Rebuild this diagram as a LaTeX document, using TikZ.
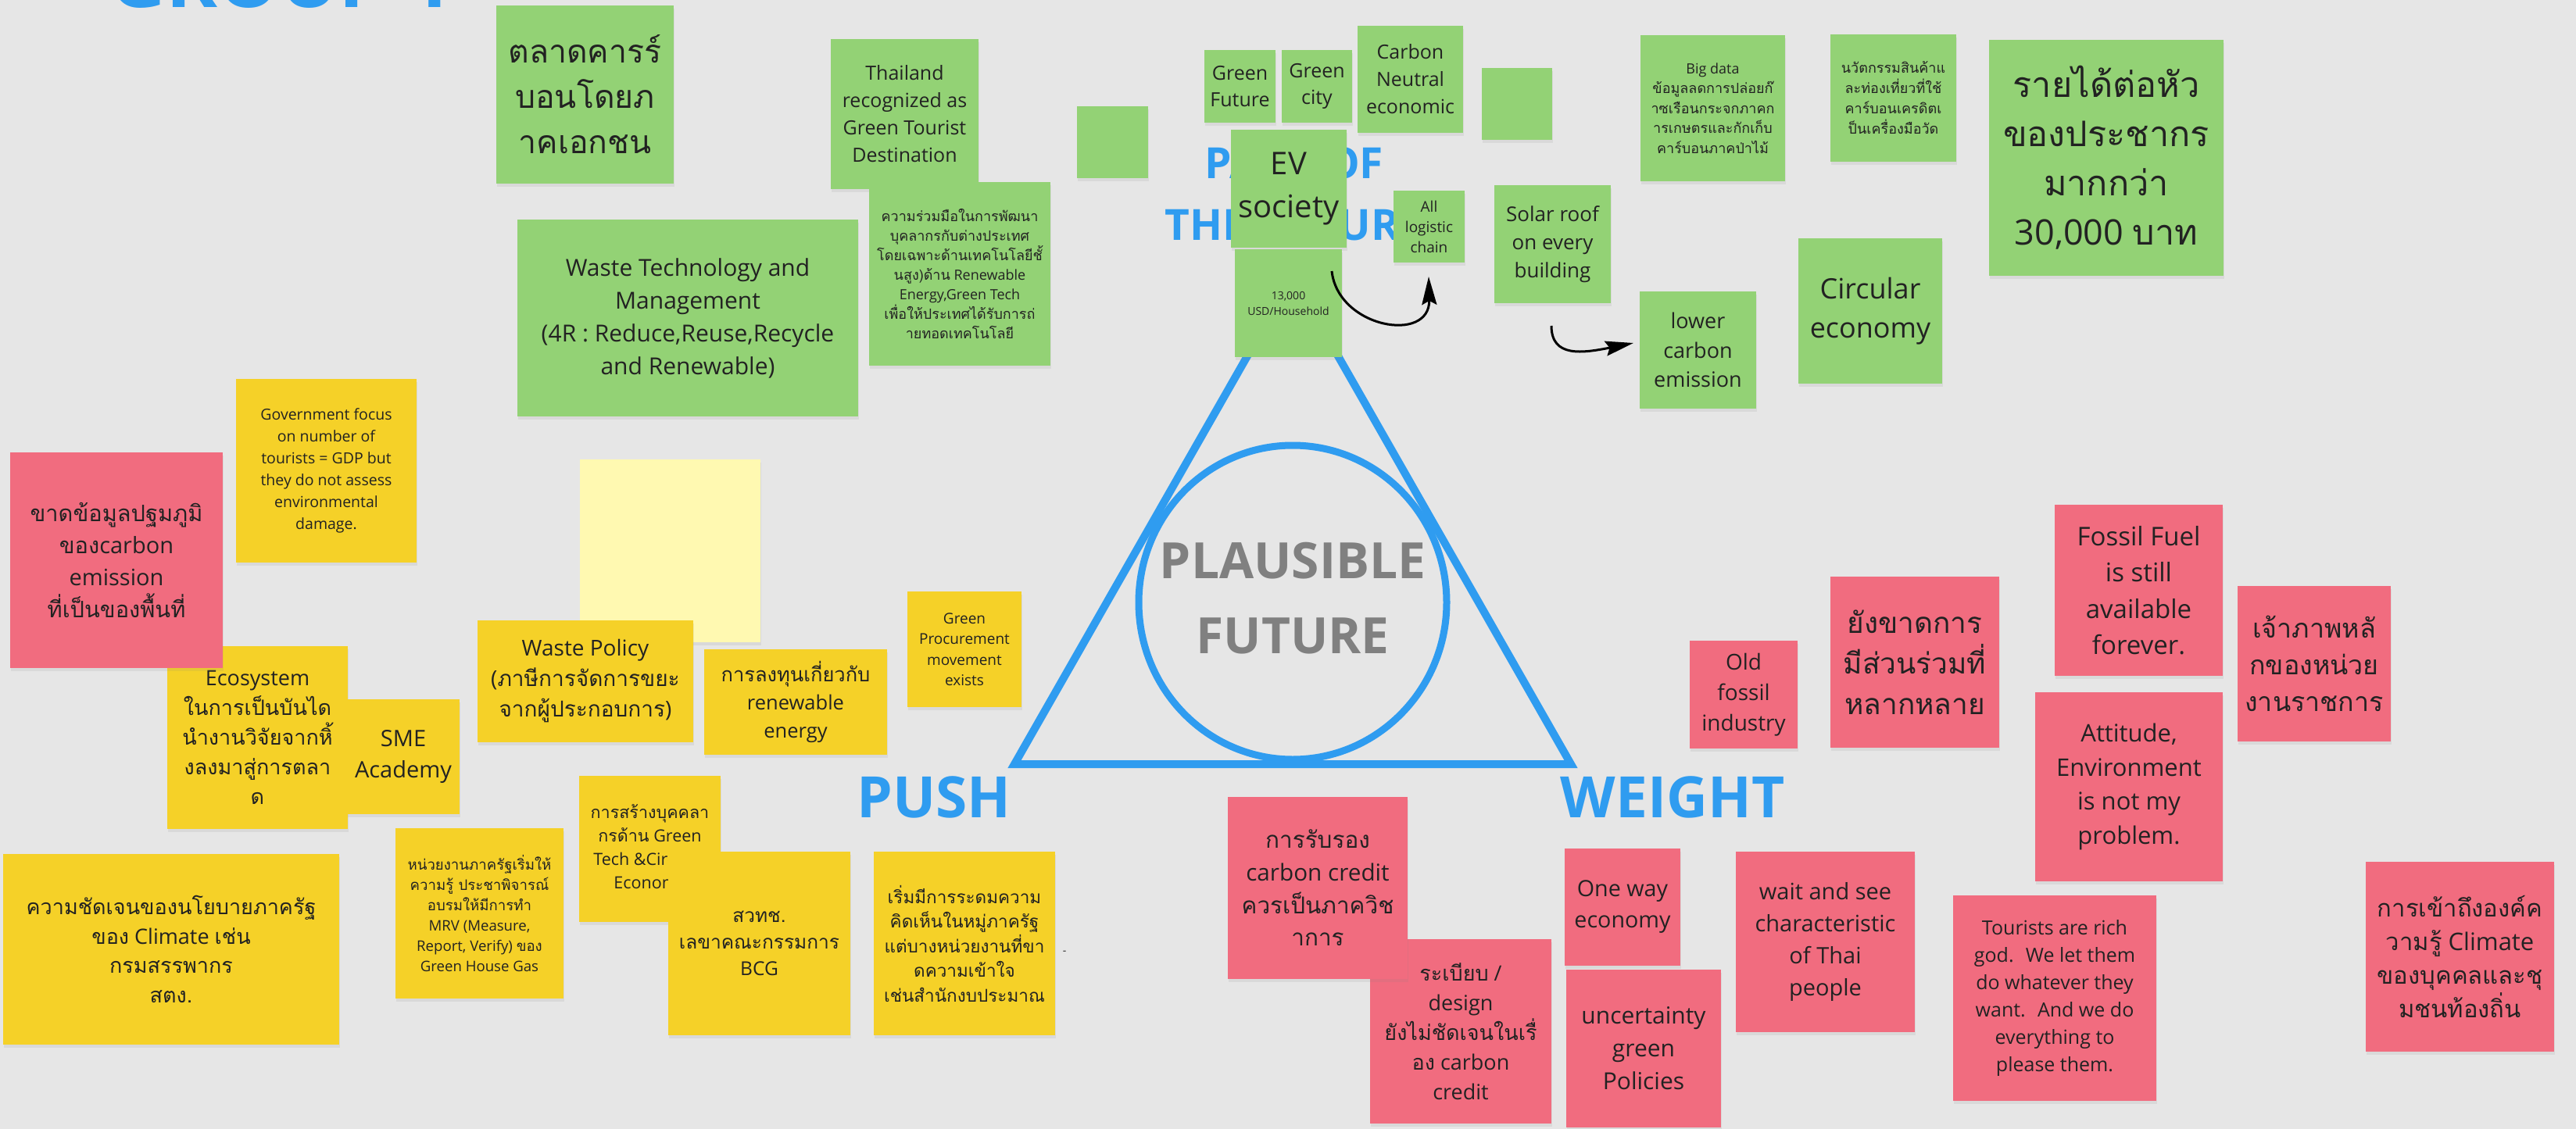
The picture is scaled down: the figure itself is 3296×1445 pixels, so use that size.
\documentclass[tikz,border=0pt]{standalone}
\usepackage{fontspec}
\setmainfont{Open Sans}
\newfontfamily\thaifont[Script=Thai]{Loma}
\usetikzlibrary{arrows.meta,shadows}
\definecolor{bg}{HTML}{E6E6E6}
\definecolor{sgreen}{HTML}{93D275}
\definecolor{syellow}{HTML}{F5D128}
\definecolor{spink}{HTML}{F16C7F}
\definecolor{slight}{HTML}{FFF9B1}
\definecolor{tblue}{HTML}{2F9CF0}
\definecolor{tgray}{HTML}{808080}
\definecolor{ink}{HTML}{222222}
\newcommand\fz[2]{\fontsize{#1}{#2}\selectfont}
\newcommand\tha[1]{{\thaifont #1}}
\newcommand\stick[8]{\node[#2, minimum width={#5-#3}, minimum height={#6-#4}, font=#7] (#1) at ({(#3+#5)/2},{(#4+#6)/2}) {#8};}
\tikzset{
  note/.style={inner sep=0pt, align=center, text=ink, drop shadow={shadow xshift=1pt, shadow yshift=-4pt, opacity=.12}},
  gn/.style={note, fill=sgreen},
  yn/.style={note, fill=syellow},
  ln/.style={note, fill=slight},
  pn/.style={note, fill=spink},
  title/.style={text=tblue, font=\bfseries},
  conn/.style={line width=3pt, draw=black, -{Stealth[length=36pt,width=19pt,inset=5pt]}},
}
\begin{document}
\begin{tikzpicture}[x=1pt,y=-1pt]
\useasboundingbox (0,0) rectangle (3296,1445);
\clip (0,0) rectangle (3296,1445);
\fill[bg] (0,0) rectangle (3296,1445);

% titles
\node[text=tblue, font=\fz{100}{100}\bfseries, anchor=base west, inner sep=0pt] (grp) at (140,10) {GROUP 1};
\node[text=tblue, font=\fz{55}{79}\bfseries, align=center] (path) at (1656,248) {PATH OF\\THE FUTURE};

% triangle and circle
\draw[tblue, line width=10pt] (1654,354) -- (2010,978) -- (1298,978) -- cycle;
\draw[tblue, line width=9pt] (1654,771) ellipse [x radius=197, y radius=201];
\node[text=tgray, font=\fz{64}{96}\bfseries, align=center] (pf) at (1654,766) {PLAUSIBLE\\FUTURE};
\node[text=tblue, font=\fz{73}{73}\bfseries, anchor=base] (push) at (1195,1046) {PUSH};
\node[text=tblue, font=\fz{73}{73}\bfseries, anchor=base] (weight) at (2140,1046) {WEIGHT};

% green notes
\stick{g1}{gn}{635}{7}{862}{235}{\fz{41}{58}\thaifont}{ตลาดคารร์\\บอนโดยภ\\าคเอกชน}
\stick{g2}{gn}{1063}{50}{1252}{242}{\fz{25}{35}}{Thailand\\recognized as\\Green Tourist\\Destination}
\stick{g3}{gn}{1112}{233}{1344}{468}{\fz{18}{25}}{\tha{ความร่วมมือในการพัฒนา}\\ \tha{บุคลากรกับต่างประเทศ}\\ \tha{โดยเฉพาะด้านเทคโนโลยีชั้}\\ \tha{นสูง)ด้าน} Renewable\\ Energy,Green Tech\\ \tha{เพื่อให้ประเทศได้รับการถ่}\\ \tha{ายทอดเทคโนโลยี}}
\stick{g4}{gn}{1378}{136}{1469}{228}{\fz{20}{28}}{}
\stick{g5}{gn}{662}{281}{1098}{533}{\fz{30}{42}}{Waste Technology and\\Management\\(4R : Reduce,Reuse,Recycle\\and Renewable)}
\stick{g6}{gn}{1541}{64}{1632}{157}{\fz{25}{34}}{Green\\Future}
\stick{g7}{gn}{1640}{64}{1730}{157}{\fz{25}{34}}{Green\\city}
\stick{g8}{gn}{1737}{33}{1872}{170}{\fz{25}{35}}{Carbon\\Neutral\\economic}
\stick{g9}{gn}{1896}{87}{1986}{179}{\fz{20}{28}}{}
\stick{g10}{gn}{1575}{166}{1723}{317}{\fz{40}{55}}{EV\\society}
\stick{g11}{gn}{1580}{319}{1717}{457}{\fz{14}{20}}{13,000\\USD/Household}
\stick{g12}{gn}{1783}{244}{1874}{336}{\fz{19}{26}}{All\\logistic\\chain}
\stick{g13}{gn}{1912}{237}{2061}{388}{\fz{26}{36}}{Solar roof\\on every\\building}
\stick{g14}{gn}{2098}{373}{2247}{523}{\fz{27}{37.5}}{lower\\carbon\\emission}
\stick{g15}{gn}{2301}{305}{2485}{491}{\fz{36}{50}}{Circular\\economy}
\stick{g16}{gn}{2099}{45}{2284}{232}{\fz{18}{25.5}}{Big data\\ \tha{ข้อมูลลดการปล่อยก๊}\\ \tha{าซเรือนกระจกภาคก}\\ \tha{ารเกษตรและกักเก็บ}\\ \tha{คาร์บอนภาคป่าไม้}}
\stick{g17}{gn}{2342}{44}{2503}{207}{\fz{18}{26}\thaifont}{นวัตกรรมสินค้าแ\\ละท่องเที่ยวที่ใช้\\คาร์บอนเครดิตเ\\ป็นเครื่องมือวัด}
\stick{g18}{gn}{2545}{51}{2845}{353}{\fz{45}{63}}{\tha{รายได้ต่อหัว}\\ \tha{ของประชากร}\\ \tha{มากกว่า}\\ 30,000 \tha{บาท}}

% yellow notes
\stick{y1}{yn}{302}{485}{533}{720}{\fz{19.5}{28}}{Government focus\\on number of\\tourists = GDP but\\they do not assess\\environmental\\damage.}
\stick{y2}{ln}{742}{588}{973}{822}{\fz{20}{28}}{}
\stick{y3}{yn}{214}{827}{445}{1061}{\fz{27}{38}}{Ecosystem\\ \tha{ในการเป็นบันได}\\ \tha{นำงานวิจัยจากหิ้}\\ \tha{งลงมาสู่การตลา}\\ \tha{ด}}
\stick{y4}{yn}{444}{895}{588}{1042}{\fz{29}{40}}{SME\\Academy}
\stick{y5}{yn}{611}{794}{887}{950}{\fz{28}{39}}{Waste Policy\\ (\tha{ภาษีการจัดการขยะ}\\ \tha{จากผู้ประกอบการ})}
\stick{y6}{yn}{901}{831}{1135}{966}{\fz{25.5}{36}}{\tha{การลงทุนเกี่ยวกับ}\\ renewable\\ energy}
\stick{y7}{yn}{1161}{757}{1307}{905}{\fz{19}{26.5}}{Green\\Procurement\\movement\\exists}
\stick{y8}{yn}{741}{993}{922}{1180}{\fz{21.5}{30}}{\tha{การสร้างบุคคลา}\\ \tha{กรด้าน} Green\\ Tech \&Circular\\ Economy}
\stick{y9}{yn}{855}{1090}{1088}{1325}{\fz{24.5}{34}}{\tha{สวทช.}\\ \tha{เลขาคณะกรรมการ}\\ BCG}
\stick{y10}{yn}{1118}{1090}{1350}{1325}{\fz{22.5}{31.5}\thaifont}{เริ่มมีการระดมความ\\คิดเห็นในหมู่ภาครัฐ\\แต่บางหน่วยงานที่ขา\\ดความเข้าใจ\\เช่นสำนักงบประมาณ}
\stick{y11}{yn}{506}{1060}{721}{1278}{\fz{18.6}{26}}{\tha{หน่วยงานภาครัฐเริ่มให้}\\ \tha{ความรู้ ประชาพิจารณ์}\\ \tha{อบรมให้มีการทำ}\\ MRV (Measure,\\ Report, Verify) \tha{ของ}\\ Green House Gas}
\stick{y12}{yn}{4}{1093}{434}{1337}{\fz{27}{37.5}}{\tha{ความชัดเจนของนโยบายภาครัฐ}\\ \tha{ของ} Climate \tha{เช่น}\\ \tha{กรมสรรพากร}\\ \tha{สตง.}}
\node[font=\fz{14}{14}, text=ink] (dash) at (1362,1219) {-};

% pink notes
\stick{p1}{pn}{13}{579}{285}{855}{\fz{29}{41}}{\tha{ขาดข้อมูลปฐมภูมิ}\\ \tha{ของ}carbon\\ emission\\ \tha{ที่เป็นของพื้นที่}}
\stick{p3}{pn}{1753}{1202}{1985}{1438}{\fz{27}{38}}{\tha{ระเบียบ} /\\ design\\ \tha{ยังไม่ชัดเจนในเรื่}\\ \tha{อง} carbon\\ credit}
\stick{p2}{pn}{1571}{1020}{1801}{1253}{\fz{29.7}{41.6}}{\tha{การรับรอง}\\ carbon credit\\ \tha{ควรเป็นภาควิช}\\ \tha{าการ}}
\stick{p4}{pn}{2002}{1086}{2150}{1236}{\fz{28.7}{40}}{One way\\economy}
\stick{p5}{pn}{2004}{1241}{2202}{1443}{\fz{30}{42}}{uncertainty\\green\\Policies}
\stick{p6}{pn}{2162}{820}{2300}{958}{\fz{28}{39}}{Old\\fossil\\industry}
\stick{p7}{pn}{2342}{738}{2558}{957}{\fz{37}{52}\thaifont}{ยังขาดการ\\มีส่วนร่วมที่\\หลากหลาย}
\stick{p8}{pn}{2629}{646}{2844}{865}{\fz{33}{46.5}}{Fossil Fuel\\is still\\available\\forever.}
\stick{p9}{pn}{2863}{750}{3059}{949}{\fz{34}{47}\thaifont}{เจ้าภาพหลั\\กของหน่วย\\งานราชการ}
\stick{p10}{pn}{2604}{886}{2844}{1128}{\fz{31}{43.5}}{Attitude,\\Environment\\is not my\\problem.}
\stick{p11}{pn}{2221}{1090}{2450}{1321}{\fz{29}{41}}{wait and see\\characteristic\\of Thai\\people}
\stick{p12}{pn}{2499}{1146}{2759}{1409}{\fz{25}{35}}{Tourists are rich\\god.~ We let them\\do whatever they\\want.~ And we do\\everything to\\please them.}
\stick{p13}{pn}{3027}{1103}{3268}{1346}{\fz{31}{43}}{\tha{การเข้าถึงองค์ค}\\ \tha{วามรู้} Climate\\ \tha{ของบุคคลและชุ}\\ \tha{มชนท้องถิ่น}}

% arrows
\coordinate (a1s) at (1704,347);
\coordinate (a1e) at (1828,354);
\draw[conn] (a1s) .. controls (1712,420) and (1830,440) .. (a1e);
\coordinate (a2s) at (1985,417);
\coordinate (a2e) at (2090,439);
\draw[conn] (a2s) .. controls (1985,458) and (2025,452) .. (a2e);
\end{tikzpicture}
\end{document}
